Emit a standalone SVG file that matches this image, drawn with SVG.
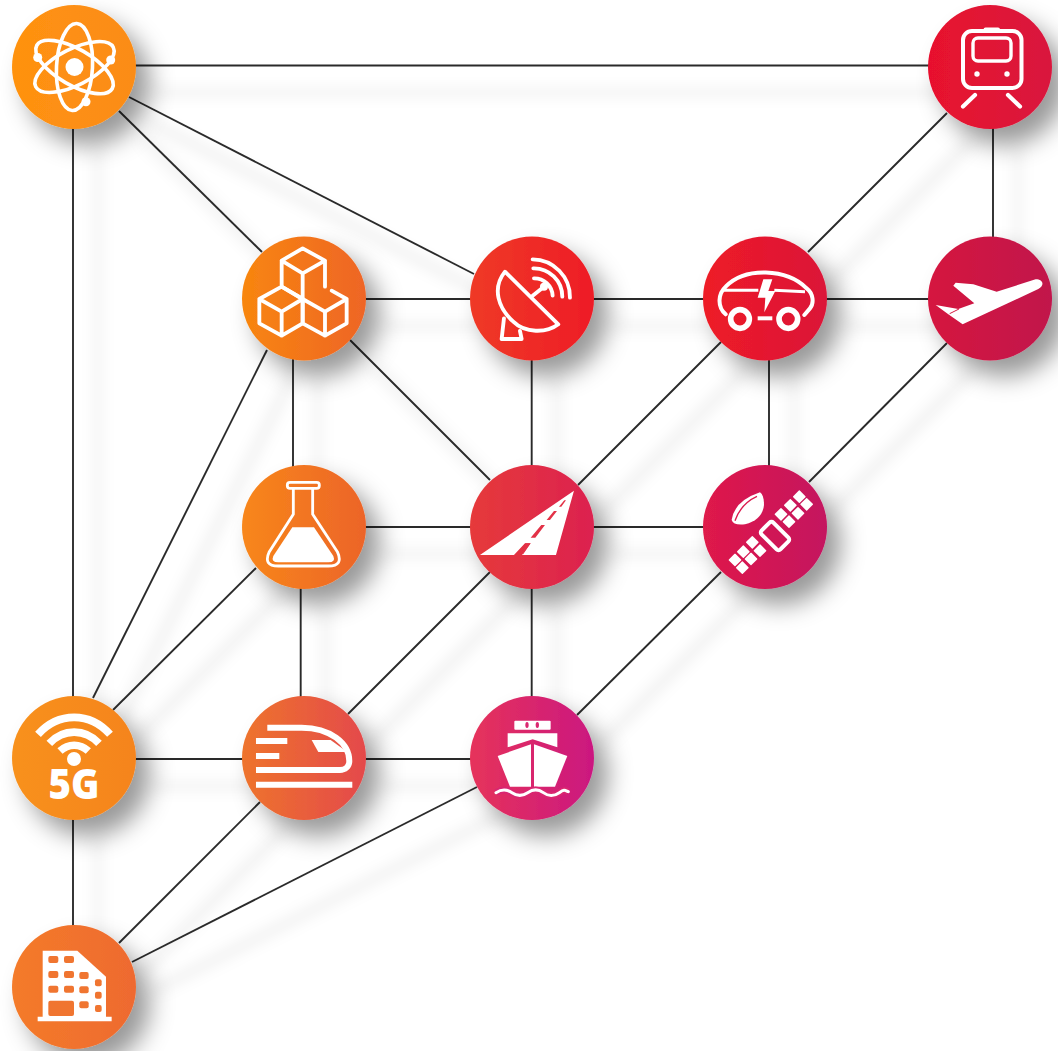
<svg xmlns="http://www.w3.org/2000/svg" width="1058" height="1051" viewBox="0 0 1058 1051">
<style>
.c{stroke:#2b2b2b;stroke-width:1.9;fill:none}
.s{fill:none;stroke:#fff;stroke-linecap:round;stroke-linejoin:round}
.w{fill:#fff}
</style>
<defs>
<filter id="ns" filterUnits="userSpaceOnUse" x="0" y="0" width="1058" height="1051"><feDropShadow dx="14" dy="16" stdDeviation="12" flood-color="#000" flood-opacity=".4"/></filter>
<filter id="ls" filterUnits="userSpaceOnUse" x="0" y="0" width="1058" height="1051"><feMorphology in="SourceAlpha" operator="dilate" radius="3" result="d"/><feOffset in="d" dx="25" dy="27" result="o"/><feGaussianBlur in="o" stdDeviation="7" result="b"/><feFlood flood-color="#000" flood-opacity=".06"/><feComposite in2="b" operator="in"/><feMerge><feMergeNode/><feMergeNode in="SourceGraphic"/></feMerge></filter>
<linearGradient id="g1"><stop offset="0" stop-color="#FF9210"/><stop offset="1" stop-color="#FB8C16"/></linearGradient>
<linearGradient id="g2"><stop offset="0" stop-color="#E8112D"/><stop offset="1" stop-color="#D9163E"/></linearGradient>
<linearGradient id="g3"><stop offset="0" stop-color="#F8860F"/><stop offset="1" stop-color="#EE6526"/></linearGradient>
<linearGradient id="g4"><stop offset="0" stop-color="#EF3A26"/><stop offset="1" stop-color="#EE1C25"/></linearGradient>
<linearGradient id="g5"><stop offset="0" stop-color="#EE1B27"/><stop offset="1" stop-color="#DB1638"/></linearGradient>
<linearGradient id="g6"><stop offset="0" stop-color="#D5173F"/><stop offset="1" stop-color="#C1124B"/></linearGradient>
<linearGradient id="g7"><stop offset="0" stop-color="#F8871A"/><stop offset="1" stop-color="#EC6429"/></linearGradient>
<linearGradient id="g8"><stop offset="0" stop-color="#E63A3A"/><stop offset="1" stop-color="#DC2150"/></linearGradient>
<linearGradient id="g9"><stop offset="0" stop-color="#DF1A4A"/><stop offset="1" stop-color="#C4125F"/></linearGradient>
<linearGradient id="g10"><stop offset="0" stop-color="#F8911C"/><stop offset="1" stop-color="#F5841F"/></linearGradient>
<linearGradient id="g11"><stop offset="0" stop-color="#EE742C"/><stop offset="1" stop-color="#E4494B"/></linearGradient>
<linearGradient id="g12"><stop offset="0" stop-color="#E6335A"/><stop offset="1" stop-color="#CB1880"/></linearGradient>
<linearGradient id="g13"><stop offset="0" stop-color="#F47B2A"/><stop offset="1" stop-color="#EE6A30"/></linearGradient>
</defs>
<rect width="1058" height="1051" fill="#fff"/>
<g id="connectors" class="c" filter="url(#ls)">
<path d="M130 65.500H930"/>
<path d="M73 125V700"/>
<path d="M73 815V930"/>
<path d="M993 125V240"/>
<path d="M360 299H475"/>
<path d="M590 299H708"/>
<path d="M822 299H932"/>
<path d="M293 355V470"/>
<path d="M531.700 355V470"/>
<path d="M769 355V470"/>
<path d="M360 527H475"/>
<path d="M590 527H708"/>
<path d="M300.700 584V700"/>
<path d="M531.700 584V700"/>
<path d="M132 759H246"/>
<path d="M362 759H475"/>
<path d="M119 111L262 252"/>
<path d="M129 97L474 274"/>
<path d="M947 113L808 252"/>
<path d="M721 342L578 485"/>
<path d="M947 343L809 482"/>
<path d="M267 350L93 698"/>
<path d="M350 340L490 480"/>
<path d="M256 568L113 710"/>
<path d="M490 572L348 714"/>
<path d="M721 572L577 715"/>
<path d="M477 787L132 962"/>
<path d="M260 802L119 943"/>
</g>
<g id="atom"><circle cx="74" cy="67" r="62" fill="url(#g1)" filter="url(#ns)"/>
<g class="s" stroke-width="3.600"><ellipse cx="74.500" cy="67" rx="18" ry="43.500" transform="rotate(3 74.500 67)"/><ellipse cx="74.500" cy="67" rx="18" ry="43.500" transform="rotate(63 74.500 67)"/><ellipse cx="74.500" cy="67" rx="18" ry="43.500" transform="rotate(-60 74.500 67)"/></g>
<g class="w"><circle cx="74.500" cy="67" r="9"/><circle cx="37.700" cy="57.500" r="4.500"/><circle cx="110.700" cy="60" r="4.500"/><circle cx="86" cy="101.700" r="4.500"/></g></g>
<g id="train"><circle cx="990" cy="67" r="62" fill="url(#g2)" filter="url(#ns)"/>
<g class="s" stroke-width="4"><rect x="963" y="31" width="58.500" height="57" rx="9"/><rect x="973" y="38" width="38" height="23" rx="5" stroke-width="3.400"/><path d="M985.500 29.500H998"/><path d="M975 95L963 106.500M1008 95L1020 106.500" stroke-width="4.200"/></g>
<circle class="w" cx="977" cy="74" r="2.700"/><circle class="w" cx="1007" cy="74" r="2.700"/></g>
<g id="blocks"><circle cx="304" cy="298.500" r="62" fill="url(#g3)" filter="url(#ns)"/>
<g transform="translate(230 225) scale(.3333)"><g class="s" stroke-width="11.500">
<path d="M155 107L218 70L285 107L218 145ZM155 107V180M285 107V185M218 145V222"/>
<path d="M155 185L88 222L155 260L218 222ZM88 222V295L155 332L218 295V222M155 260V332"/>
<path d="M218 222V295L285 332L350 295V222L285 260ZM285 260V332M218 222L155 185M350 222L305 197"/>
</g></g></g>
<g id="dish"><circle cx="532" cy="298.500" r="62" fill="url(#g4)" filter="url(#ns)"/>
<g transform="translate(230 225) scale(.3333)"><g class="s" stroke-width="11.500">
<path d="M825 140L985 298C950 325 885 325 850 290C805 250 785 190 825 140Z"/>
<path d="M822 280L815 342H875L870 318"/>
<path d="M908 212L942 185"/>
<path d="M912 160A55 55 0 0 1 968 212"/>
<path d="M910 130A85 85 0 0 1 997 215"/>
<path d="M908 103A113 113 0 0 1 1020 218"/>
</g><circle class="w" cx="942" cy="185" r="12"/></g></g>
<g id="car"><circle cx="765" cy="298.500" r="62" fill="url(#g5)" filter="url(#ns)"/>
<g transform="translate(695 225) scale(.3333)"><g class="s" stroke-width="12">
<path d="M92 268C65 245 70 205 92 185C150 125 275 130 335 190C355 205 358 235 345 250L328 270"/>
<path d="M85 196H190M238 196L330 200" stroke-linecap="butt" stroke-width="9"/>
<path d="M188 280H232" stroke-linecap="butt"/>
<circle cx="135" cy="282" r="28" stroke-width="17"/><circle cx="280" cy="282" r="28" stroke-width="17"/>
</g><path class="w" d="M205 163H232L220 198H241L208 262L211 218H188Z"/></g></g>
<g id="plane"><circle cx="990" cy="298.500" r="62" fill="url(#g6)" filter="url(#ns)"/>
<g transform="translate(695 225) scale(.3333)"><path class="w" d="M1022 163C1045 163 1050 182 1030 192L803 298L760 268L722 240L790 252L838 235L775 182L782 173L835 178L905 200Z"/><path d="M764 266L792 252" stroke="#D5173F" stroke-width="3" fill="none"/></g></g>
<g id="flask"><circle cx="304" cy="527" r="62" fill="url(#g7)" filter="url(#ns)"/>
<g transform="translate(230 455) scale(.3333)"><g class="s" stroke-width="8.500"><rect x="172" y="82" width="96" height="18" rx="8"/><path d="M190 100V178L118 290Q98 333 145 333H295Q342 333 322 290L248 178V100"/></g><path class="w" d="M187 217H252L310 303Q318 322 295 322H145Q122 322 130 303Z"/></g></g>
<g id="road"><circle cx="532" cy="527" r="62" fill="url(#g8)" filter="url(#ns)"/>
<g transform="translate(230 455) scale(.3333)"><path class="w" d="M1032 107L978 300H876L902 265H885L852 300H750Z"/><path d="M878 300L902 265L886 265Z" fill="#E33247"/><path d="M902 248L916 248L945 210L934 210ZM950 195L960 195L981 168L972 168ZM987 155L994 155L1008 136L1003 136Z" fill="#E33247"/></g></g>
<g id="satellite"><circle cx="765" cy="527" r="62" fill="url(#g9)" filter="url(#ns)"/>
<g transform="translate(695 455) scale(.3333)"><path class="w" d="M195 112Q118 138 110 195Q115 212 150 208Q202 195 207 150Q207 120 195 112Z"/><path d="M186 124Q138 146 120 197" stroke="#DB1A4E" stroke-width="4" fill="none"/>
<rect x="200" y="218" width="80" height="50" rx="8" transform="rotate(45 240 243)" fill="none" stroke="#fff" stroke-width="12"/>
<g class="w"><rect x="299" y="111" width="28" height="28" rx="2" transform="rotate(45 313 125)"/><rect x="321" y="134" width="28" height="28" rx="2" transform="rotate(45 335 148)"/><rect x="272" y="137" width="28" height="28" rx="2" transform="rotate(45 286 151)"/><rect x="295" y="161" width="28" height="28" rx="2" transform="rotate(45 309 175)"/><rect x="244" y="164" width="28" height="28" rx="2" transform="rotate(45 258 178)"/><rect x="268" y="186" width="28" height="28" rx="2" transform="rotate(45 282 200)"/>
<rect x="158" y="248" width="28" height="28" rx="2" transform="rotate(45 172 262)"/><rect x="181" y="273" width="28" height="28" rx="2" transform="rotate(45 195 287)"/><rect x="131" y="276" width="28" height="28" rx="2" transform="rotate(45 145 290)"/><rect x="154" y="298" width="28" height="28" rx="2" transform="rotate(45 168 312)"/><rect x="106" y="301" width="28" height="28" rx="2" transform="rotate(45 120 315)"/><rect x="128" y="324" width="28" height="28" rx="2" transform="rotate(45 142 338)"/></g></g></g>
<g id="fiveg"><circle cx="74" cy="758" r="62" fill="url(#g10)" filter="url(#ns)"/>
<g transform="translate(0 685) scale(.3333)"><g fill="none" stroke="#fff" stroke-width="23"><path d="M114 148C175 80 270 80 330 148"/><path d="M148 175C190 130 255 130 297 175"/><path d="M180 198C205 175 240 175 265 198"/></g><circle class="w" cx="222" cy="222" r="21"/></g>
<text x="74" y="799" text-anchor="middle" font-family="'Open Sans',sans-serif" font-weight="800" font-size="43" textLength="51" lengthAdjust="spacingAndGlyphs" fill="#fff">5G</text></g>
<g id="bullet-train"><circle cx="304" cy="758" r="62" fill="url(#g11)" filter="url(#ns)"/>
<g transform="translate(0 685) scale(.3333)"><path d="M802 128H905C990 128 1048 175 1048 228C1048 245 1035 255 1020 255H768" fill="none" stroke="#fff" stroke-width="18"/><path d="M768 168H862M768 213H838M768 299H1057" stroke="#fff" stroke-width="18" fill="none"/><path class="w" d="M935 165H992L1042 201H955Z"/></g></g>
<g id="ship"><circle cx="532" cy="758" r="62" fill="url(#g12)" filter="url(#ns)"/>
<g transform="translate(460 685) scale(.3333)"><rect class="w" x="163" y="107" width="109" height="27" rx="3"/><ellipse cx="201" cy="120" rx="5" ry="9" fill="#DA2770"/><ellipse cx="232" cy="120" rx="5" ry="9" fill="#DA2770"/>
<path class="w" d="M143 145H292V187L218 163L143 187Z"/>
<path class="w" d="M113 213L213 178V305H150Z"/><path class="w" d="M222 178L322 213L285 305H222Z"/>
<path d="M108 323C125 312 140 312 156 323S187 334 203 323S235 312 250 323S282 334 298 323S315 316 325 320" fill="none" stroke="#D92670" stroke-width="20"/>
<path d="M108 323C125 312 140 312 156 323S187 334 203 323S235 312 250 323S282 334 298 323S315 316 325 320" fill="none" stroke="#fff" stroke-width="9" stroke-linecap="round"/></g></g>
<g id="building"><circle cx="74" cy="987" r="62" fill="url(#g13)" filter="url(#ns)"/>
<g transform="translate(0 910) scale(.3333)"><path class="w" d="M128 122H232L318 200V322H128Z"/><path d="M113 327H335" stroke="#fff" stroke-width="14"/>
<g fill="#F07530"><rect x="145" y="138" width="30" height="21" rx="6"/><rect x="192" y="138" width="30" height="21" rx="6"/><rect x="145" y="183" width="30" height="21" rx="6"/><rect x="192" y="183" width="30" height="21" rx="6"/><rect x="238" y="186" width="28" height="21" rx="6"/><rect x="285" y="208" width="20" height="21" rx="6"/><rect x="145" y="227" width="30" height="21" rx="6"/><rect x="192" y="227" width="30" height="21" rx="6"/><rect x="238" y="229" width="28" height="21" rx="6"/><rect x="285" y="245" width="20" height="21" rx="6"/><rect x="145" y="272" width="77" height="46" rx="6"/><rect x="238" y="274" width="28" height="21" rx="6"/><rect x="285" y="285" width="20" height="21" rx="6"/></g></g></g>
</svg>
